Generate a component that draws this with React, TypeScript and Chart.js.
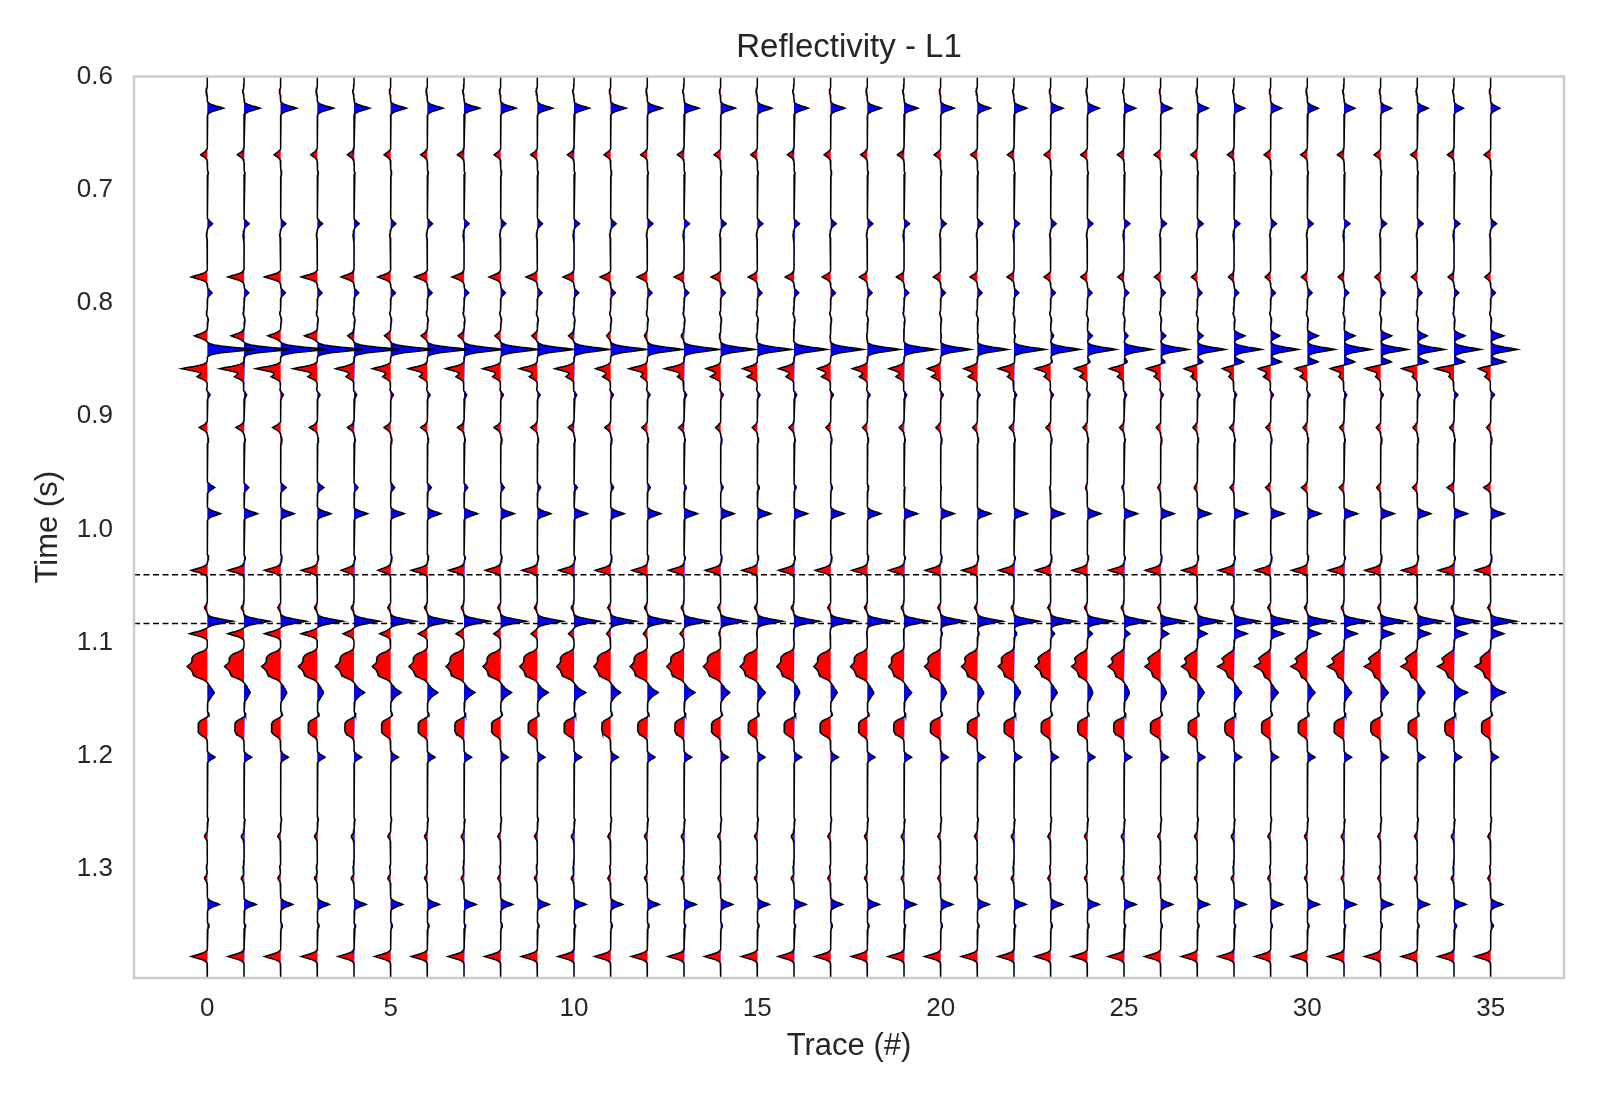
import { useEffect, useRef } from 'react';
import { Chart, registerables } from 'chart.js';

Chart.register(...registerables);

// time window of the section (s) and sample step
const T_START = 0.6;
const T_END = 1.396;
const DT = 0.001;

const TRACES = [
  0, 1, 2, 3, 4, 5, 6, 7, 8, 9, 10, 11, 12, 13, 14, 15, 16, 17,
  18, 19, 20, 21, 22, 23, 24, 25, 26, 27, 28, 29, 30, 31, 32, 33, 34, 35,
];
const X_TICKS = [0, 5, 10, 15, 20, 25, 30, 35];
const Y_TICKS = [0.6, 0.7, 0.8, 0.9, 1.0, 1.1, 1.2, 1.3];
const HORIZONS = [1.04, 1.083];

// wavelet sampled every 1 ms, peak = 1
const WAVELET = [0.02, 0.06, 0.15, 0.3, 0.52, 0.78, 1, 0.78, 0.52, 0.3, 0.15, 0.06, 0.02];

// reflectivity spikes: time (s) and amplitude per trace (hundredths of a trace spacing)
const SPIKE_TIMES = [
  0.613, 0.628, 0.669, 0.685, 0.73, 0.74, 0.777, 0.791, 0.809, 0.815,
  0.829, 0.841, 0.852, 0.858, 0.865, 0.877, 0.881, 0.91, 0.921, 0.963,
  0.986, 1.025, 1.036, 1.069, 1.081, 1.092, 1.114, 1.121, 1.144, 1.164,
  1.201, 1.256, 1.271, 1.298, 1.308, 1.331, 1.35, 1.377,
];
const SPIKE_AMPS = [
  [-4, -4, -4, -4, -4, -4, -4, -4, -4, -4, -4, -4, -4, -4, -4, -4, -4, -4, -4, -4, -4, -4, -4, -4, -4, -4, -4, -4, -4, -4, -4, -4, -4, -4, -4, -4],
  [44, 44, 44, 44, 43, 43, 43, 43, 42, 42, 42, 42, 41, 41, 40, 40, 39, 39, 38, 38, 37, 36, 35, 34, 33, 32, 31, 30, 30, 30, 30, 30, 30, 30, 26, 25],
  [-18, -18, -18, -18, -18, -18, -18, -18, -18, -18, -18, -18, -18, -18, -18, -18, -18, -18, -18, -18, -18, -18, -18, -18, -18, -18, -18, -18, -18, -18, -18, -18, -18, -18, -18, -18],
  [3, 3, 3, 3, 3, 3, 3, 3, 3, 3, 3, 3, 3, 3, 3, 3, 3, 3, 3, 3, 3, 3, 3, 3, 3, 3, 3, 3, 3, 3, 3, 3, 3, 3, 3, 3],
  [14, 14, 14, 14, 14, 14, 14, 14, 14, 14, 15, 15, 15, 15, 15, 15, 15, 15, 15, 15, 15, 15, 15, 15, 15, 16, 16, 16, 16, 16, 16, 16, 16, 16, 16, 16],
  [-3, -3, -3, -3, -3, -3, -3, -3, -3, -3, -3, -3, -3, -3, -3, -3, -3, -3, -3, -3, -3, -3, -3, -3, -3, -3, -3, -3, -3, -3, -3, -3, -3, -3, -3, -3],
  [-44, -44, -44, -44, -35, -35, -35, -33, -32, -31, -30, -29, -28, -27, -26, -25, -24, -23, -22, -21, -20, -20, -19, -18, -18, -17, -17, -16, -15, -15, -16, -16, -16, -16, -16, -16],
  [13, 13, 13, 13, 13, 13, 13, 13, 13, 13, 13, 13, 13, 13, 13, 13, 13, 13, 13, 13, 13, 13, 13, 13, 13, 13, 13, 13, 13, 13, 13, 13, 13, 13, 13, 13],
  [-3, -3, -3, -3, -3, -3, -3, -3, -3, -3, -3, -3, -3, -3, -3, -3, -3, -3, -3, -3, -3, -3, -3, -3, -3, -3, -3, -3, -3, -3, -3, -3, -3, -3, -3, -3],
  [3, 3, 3, 3, 3, 3, 3, 3, 3, 3, 3, 3, 3, 3, 3, 3, 3, 3, 3, 3, 3, 3, 3, 3, 3, 3, 3, 3, 3, 3, 3, 3, 3, 3, 3, 3],
  [-35, -35, -35, -35, -17, -17, -17, -16, -16, -15, -15, -11, -8, -8, -4, -3, -2, -2, -2, -1, 2, 3, 4, 8, 14, 11, 14, 16, 30, 25, 30, 30, 30, 27, 30, 36],
  [128, 127, 126, 125, 123, 118, 113, 108, 104, 100, 97, 98, 97, 97, 93, 93, 90, 89, 89, 87, 82, 83, 85, 80, 78, 77, 76, 76, 75, 75, 75, 74, 74, 74, 73, 73],
  [0, 0, 0, 0, 0, 0, 0, 0, 0, 0, 0, 0, 0, 0, 0, 0, 0, 0, 0, 0, 0, 0, 3, 5, 8, 10, 12, 16, 27, 30, 30, 30, 30, 30, 30, 41],
  [-70, -66, -68, -66, -50, -50, -52, -50, -49, -49, -52, -41, -50, -53, -40, -40, -42, -36, -41, -41, -36, -37, -43, -43, -36, -40, -39, -36, -32, -34, -34, -38, -43, -43, -52, -34],
  [-28, -26, -26, -26, -22, -22, -22, -22, -22, -22, -22, -22, -18, -18, -28, -28, -22, -25, -22, -22, -25, -25, -18, -18, -21, -18, -18, -18, -14, -20, -20, -14, -14, -14, -14, -16],
  [-3, -3, -3, -3, -3, -3, -3, -3, -3, -3, -3, -3, -3, -3, -3, -3, -3, -3, -3, -3, -3, -3, -3, -3, -3, -3, -3, -3, -3, -3, -3, -3, -3, -3, -3, -3],
  [8, 8, 8, 8, 8, 8, 8, 8, 8, 8, 8, 8, 8, 8, 8, 8, 8, 8, 8, 8, 8, 8, 8, 8, 8, 8, 8, 8, 8, 8, 8, 8, 8, 8, 11, 11],
  [-22, -22, -22, -22, -18, -18, -18, -18, -18, -18, -16, -16, -15, -15, -14, -14, -14, -13, -13, -13, -13, -13, -13, -13, -12, -12, -12, -12, -12, -13, -12, -12, -12, -12, -12, -11],
  [4, 4, 4, 4, 4, 4, 4, 4, 4, 4, 4, 4, 4, 4, 4, 4, 4, 4, 4, 4, 4, 4, 4, 4, 4, 4, 4, 4, 4, 4, 4, 4, 4, 4, 4, 4],
  [20, 13, 15, 18, 11, 11, 11, 10, 10, 9, 9, 8, 8, 7, 7, 6, 6, 5, 4, 3, 2, 1, 0, -3, -5, -6, -8, -9, -11, -14, -16, -13, -11, -13, -19, -19],
  [36, 37, 37, 37, 37, 37, 37, 37, 37, 37, 37, 37, 37, 37, 37, 37, 37, 37, 37, 37, 37, 37, 37, 37, 37, 37, 37, 37, 37, 37, 37, 37, 37, 37, 37, 37],
  [4, 4, 4, 4, 4, 4, 4, 4, 4, 4, 4, 4, 4, 4, 4, 4, 4, 4, 4, 4, 4, 4, 4, 4, 4, 4, 4, 4, 4, 4, 4, 4, 4, 4, 4, 4],
  [-44, -44, -44, -44, -35, -35, -44, -42, -42, -42, -42, -42, -42, -42, -42, -42, -42, -42, -42, -42, -42, -42, -42, -42, -42, -42, -42, -42, -43, -43, -43, -43, -43, -43, -43, -43],
  [-8, -8, -8, -8, -8, -8, -8, -8, -8, -8, -8, -8, -8, -8, -8, -8, -8, -8, -8, -8, -8, -8, -8, -8, -8, -8, -8, -8, -8, -8, -8, -8, -8, -8, -8, -8],
  [70, 70, 70, 70, 70, 70, 70, 70, 70, 70, 70, 70, 70, 70, 70, 70, 70, 70, 70, 70, 70, 70, 70, 70, 70, 70, 70, 70, 70, 70, 70, 70, 70, 70, 70, 70],
  [-48, -44, -44, -44, -30, -30, -25, -22, -19, -17, -15, -11, -11, -11, -5, -2, -2, -2, -2, -2, 5, 5, 8, 11, 14, 16, 22, 27, 36, 36, 36, 36, 36, 36, 36, 36],
  [-2, -2, -2, -2, -2, -2, -2, -2, -2, -2, -2, -2, -2, -2, -2, -2, -2, -3, -3, -5, -5, -6, -7, -8, -9, -10, -11, -12, -13, -13, -13, -13, -13, -13, -13, -10],
  [-15, -15, -15, -15, -15, -14, -14, -13, -13, -13, -12, -12, -13, -13, -13, -13, -13, -13, -13, -12, -14, -14, -15, -16, -17, -18, -19, -20, -25, -25, -25, -25, -25, -25, -25, -24],
  [9, 7, 7, 7, 19, 19, 19, 20, 20, 20, 22, 17, 20, 20, 15, 12, 6, 8, 8, 11, 6, 8, 8, 8, 5, 5, 6, 9, 11, 11, 11, 11, 11, 11, 27, 30],
  [6, 6, 6, 6, 6, 6, 6, 6, 6, 6, 6, 6, 6, 6, 6, 6, 6, 6, 6, 6, 6, 6, 6, 6, 6, 6, 6, 6, 6, 6, 6, 6, 6, 6, 6, 6],
  [21, 21, 21, 21, 21, 21, 21, 21, 21, 21, 21, 21, 21, 21, 21, 21, 21, 21, 21, 21, 21, 21, 21, 21, 21, 21, 21, 21, 21, 21, 21, 21, 21, 21, 21, 21],
  [3, 3, 3, 3, 3, 3, 3, 3, 3, 3, 3, 3, 3, 3, 3, 3, 3, 3, 3, 3, 3, 3, 3, 3, 3, 3, 3, 3, 3, 3, 3, 3, 3, 3, 3, 3],
  [-8, -8, -8, -8, -8, -8, -8, -8, -8, -8, -8, -8, -8, -8, -8, -8, -8, -8, -8, -8, -8, -8, -8, -8, -8, -8, -8, -8, -8, -8, -8, -8, -8, -8, -8, -8],
  [-3, -3, -3, -3, -3, -3, -3, -3, -3, -3, -3, -3, -3, -3, -3, -3, -3, -3, -3, -3, -3, -3, -3, -3, -3, -3, -3, -3, -3, -3, -3, -3, -3, -3, -3, -3],
  [-8, -8, -8, -8, -8, -8, -8, -8, -8, -8, -8, -8, -8, -8, -8, -8, -8, -8, -8, -8, -8, -8, -8, -8, -8, -8, -8, -8, -8, -8, -8, -8, -8, -8, -8, -8],
  [33, 33, 33, 33, 33, 33, 33, 33, 33, 33, 33, 33, 33, 33, 33, 33, 33, 33, 33, 33, 33, 33, 33, 33, 33, 33, 33, 33, 33, 33, 33, 33, 33, 33, 33, 33],
  [5, 5, 5, 5, 5, 5, 5, 5, 5, 5, 5, 5, 5, 5, 5, 5, 5, 5, 5, 5, 5, 5, 5, 5, 5, 5, 5, 5, 5, 5, 5, 5, 5, 5, 8, 8],
  [-44, -44, -44, -44, -44, -44, -44, -44, -44, -44, -44, -44, -44, -44, -44, -44, -44, -44, -44, -44, -44, -44, -44, -44, -44, -44, -44, -44, -44, -44, -44, -44, -44, -44, -44, -44],
];

// thick layers: start / end time (s) and plateau amplitude per trace
const BOX_STARTS = [1.109, 1.138, 1.168];
const BOX_ENDS = [1.131, 1.15, 1.182];
const BOX_AMPS = [
  [-40, -38, -37, -37, -36, -36, -36, -36, -35, -35, -35, -34, -34, -34, -34, -34, -34, -33, -33, -30, -30, -29, -28, -27, -26, -25, -24, -23, -20, -20, -20, -20, -20, -20, -20, -19],
  [10, 10, 10, 10, 10, 10, 10, 10, 10, 10, 10, 10, 10, 10, 10, 10, 10, 10, 10, 10, 10, 10, 10, 10, 10, 10, 10, 10, 10, 10, 10, 10, 10, 10, 10, 10],
  [-25, -25, -25, -25, -25, -25, -25, -25, -25, -25, -27, -24, -26, -25, -25, -25, -27, -29, -24, -28, -28, -27, -27, -26, -26, -28, -28, -25, -25, -25, -25, -27, -27, -25, -25, -25],
];

const FONT = "'Liberation Sans', Arial, sans-serif";
const TEXT = '#262626';
const X_MIN = -2;
const X_MAX = 37;

const nSamples = Math.round((T_END - T_START) / DT) + 1;
const times = Array.from({ length: nSamples }, (_, i) => +(T_START + i * DT).toFixed(4));

function buildTrace(j: number): number[] {
  const v = new Array(nSamples).fill(0);
  const half = (WAVELET.length - 1) / 2;
  const wsum = WAVELET.reduce((a, b) => a + b, 0);
  const add = (idx: number, amp: number) => {
    for (let k = 0; k < WAVELET.length; k++) {
      const m = idx + k - half;
      if (m >= 0 && m < nSamples) v[m] += amp * WAVELET[k];
    }
  };
  SPIKE_TIMES.forEach((t, e) => {
    add(Math.round((t - T_START) / DT), SPIKE_AMPS[e][j] / 100);
  });
  BOX_STARTS.forEach((t0, b) => {
    const i0 = Math.round((t0 - T_START) / DT);
    const i1 = Math.round((BOX_ENDS[b] - T_START) / DT);
    for (let i = i0; i <= i1; i++) add(i, BOX_AMPS[b][j] / 100 / wsum);
  });
  return v;
}

const framePlugin = {
  id: 'frame',
  afterDraw(chart: any) {
    const { ctx, chartArea: a } = chart;
    ctx.save();
    ctx.strokeStyle = '#cccccc';
    ctx.lineWidth = 2.5;
    ctx.strokeRect(a.left, a.top, a.right - a.left, a.bottom - a.top);
    ctx.restore();
  },
};

export default function App() {
  const canvasRef = useRef<HTMLCanvasElement>(null);
  const chartRef = useRef<Chart | null>(null);

  useEffect(() => {
    if (!canvasRef.current) return;
    if (chartRef.current) chartRef.current.destroy();

    const datasets: any[] = [];
    TRACES.forEach((j) => {
      const v = buildTrace(j);
      datasets.push({
        data: v.map((a, i) => ({ x: j + Math.max(a, 0), y: times[i] })),
        borderWidth: 0,
        backgroundColor: '#0000ff',
        fill: { value: j },
        pointRadius: 0,
        order: 2,
      });
      datasets.push({
        data: v.map((a, i) => ({ x: j + Math.min(a, 0), y: times[i] })),
        borderWidth: 0,
        backgroundColor: '#ff0000',
        fill: { value: j },
        pointRadius: 0,
        order: 2,
      });
      datasets.push({
        data: v.map((a, i) => ({ x: j + a, y: times[i] })),
        borderColor: '#000000',
        borderWidth: 1.5,
        fill: false,
        pointRadius: 0,
        order: 1,
      });
    });
    HORIZONS.forEach((h) => {
      datasets.push({
        data: [
          { x: X_MIN, y: h },
          { x: X_MAX, y: h },
        ],
        borderColor: '#000000',
        borderWidth: 1.4,
        borderDash: [6, 3.5],
        fill: false,
        pointRadius: 0,
        order: 0,
      });
    });

    chartRef.current = new Chart(canvasRef.current, {
      type: 'line',
      data: { datasets },
      plugins: [framePlugin],
      options: {
        indexAxis: 'y',
        responsive: false,
        animation: false,
        devicePixelRatio: 1,
        events: [],
        layout: { padding: { top: 0, right: 36, bottom: 0, left: 0 } },
        plugins: {
          legend: { display: false },
          tooltip: { enabled: false },
          title: {
            display: true,
            text: 'Reflectivity - L1',
            fullSize: false,
            color: TEXT,
            font: { family: FONT, size: 33, weight: 'normal' },
            padding: { top: 28.2, bottom: 8.7 },
          },
        },
        scales: {
          x: {
            type: 'linear',
            min: X_MIN,
            max: X_MAX,
            grid: { display: false, drawTicks: false },
            border: { display: false },
            ticks: { padding: 15, color: TEXT, font: { family: FONT, size: 26 } },
            afterBuildTicks: (s: any) => {
              s.ticks = X_TICKS.map((value) => ({ value }));
            },
            afterFit: (s: any) => {
              s.height = 122;
            },
            title: {
              display: true,
              text: 'Trace (#)',
              color: TEXT,
              font: { family: FONT, size: 31 },
              padding: { top: 0, bottom: 35 },
            },
          },
          y: {
            type: 'linear',
            reverse: true,
            min: T_START,
            max: T_END,
            grid: { display: false, drawTicks: false },
            border: { display: false },
            ticks: {
              padding: 21,
              color: TEXT,
              font: { family: FONT, size: 26 },
              callback: (value: any) => Number(value).toFixed(1),
            },
            afterBuildTicks: (s: any) => {
              s.ticks = Y_TICKS.map((value) => ({ value }));
            },
            afterFit: (s: any) => {
              s.width = 134;
            },
            title: {
              display: true,
              text: 'Time (s)',
              color: TEXT,
              font: { family: FONT, size: 31 },
              padding: { top: 30, bottom: 0 },
            },
          },
        },
      },
    });

    return () => {
      if (chartRef.current) {
        chartRef.current.destroy();
        chartRef.current = null;
      }
    };
  }, []);

  return (
    <div style={{ position: 'absolute', left: 0, top: 0, width: 1600, height: 1100, background: '#ffffff' }}>
      <canvas ref={canvasRef} width={1600} height={1100} style={{ width: 1600, height: 1100 }} />
    </div>
  );
}
